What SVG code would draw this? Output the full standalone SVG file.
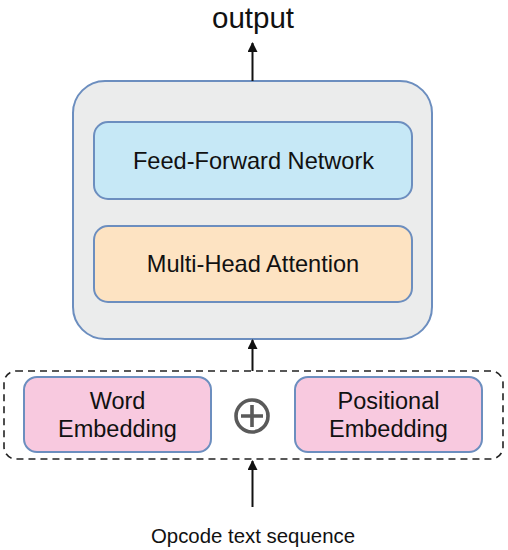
<svg xmlns="http://www.w3.org/2000/svg" width="508" height="550" viewBox="0 0 508 550">
<defs>
<style>
text{font-family:"Liberation Sans",Arial,sans-serif;fill:#111;text-anchor:middle}
.box{stroke:#6c8ebf;stroke-width:2}
.conn{stroke:#111;stroke-width:2;fill:none}
</style>
<marker id="ah" viewBox="0 0 10 10" refX="9" refY="5" markerWidth="5" markerHeight="5" orient="auto" markerUnits="strokeWidth">
<path d="M0,0 L10,5 L0,10 z" fill="#111"/>
</marker>
</defs>
<rect width="508" height="550" fill="#fff"/>
<g id="output"><text x="253" y="27.5" font-size="29.5">output</text></g>
<g id="encoder"><rect class="box" x="73" y="81" width="359" height="258" rx="32" fill="#ebecec"/></g>
<g id="ffn"><rect class="box" x="94" y="122" width="318" height="77" rx="14" fill="#c6e8f6"/><text x="253.5" y="169" font-size="23.6">Feed-Forward Network</text></g>
<g id="mha"><rect class="box" x="94" y="226" width="318" height="76" rx="14" fill="#fde3c2"/><text x="253" y="272" font-size="23.6">Multi-Head Attention</text></g>
<g id="embed"><rect x="4" y="371" width="499" height="88" rx="12" fill="none" stroke="#222" stroke-width="1.6" stroke-dasharray="7,5"/></g>
<g id="word"><rect class="box" x="24" y="377" width="187" height="75" rx="13" fill="#f8c9df"/><text x="117.5" y="409" font-size="23.5">Word</text><text x="117.5" y="437" font-size="23.5">Embedding</text></g>
<g id="plus"><circle cx="252" cy="416" r="16" fill="none" stroke="#5a5a5a" stroke-width="3.6"/><path d="M241,416 H263 M252,405 V427" stroke="#5a5a5a" stroke-width="3.6"/></g>
<g id="pos"><rect class="box" x="295" y="377" width="187" height="75" rx="13" fill="#f8c9df"/><text x="388.5" y="409" font-size="23.5">Positional</text><text x="388.5" y="437" font-size="23.5">Embedding</text></g>
<g id="input"><text x="253" y="543" font-size="20.4">Opcode text sequence</text></g>
<g id="connectors">
<line class="conn" x1="252.5" y1="81" x2="252.5" y2="43" marker-end="url(#ah)"/>
<line class="conn" x1="252.5" y1="371" x2="252.5" y2="340" marker-end="url(#ah)"/>
<line class="conn" x1="252.5" y1="507" x2="252.5" y2="461" marker-end="url(#ah)"/>
</g>
</svg>
